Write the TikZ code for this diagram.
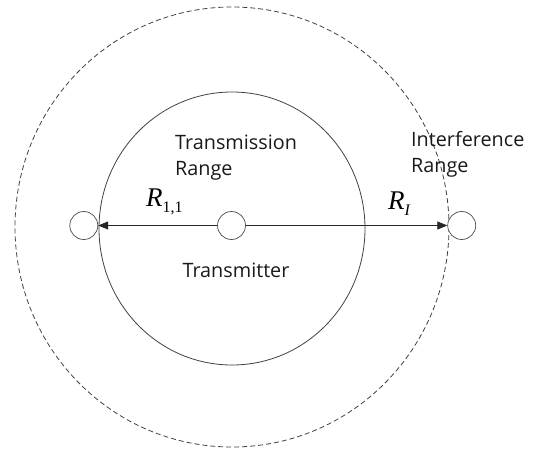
\documentclass[tikz,border=0pt]{standalone}
\usepackage{fontspec}
\setmainfont{Open Sans}
\newfontfamily\rfont{Liberation Serif}
\newcommand{\radsub}[1]{\raisebox{-6pt}{\fontsize{16}{16}\selectfont #1}}
\usetikzlibrary{positioning,arrows.meta}

\begin{document}
\begin{tikzpicture}[
    x=1pt, y=-1pt,
    font=\fontsize{19.8}{26}\selectfont, >={Triangle[length=10pt,width=8pt]},
    stn/.style={draw=black!70, circle, minimum size=28pt, inner sep=0pt, fill=white, line width=0.7pt},
    rng/.style={draw=black!75, line width=0.8pt},
    flow/.style={->, draw=black!85, line width=0.7pt},
    lbl/.style={inner sep=0pt, align=left, text=black!90},
    rad/.style={inner sep=0pt, font=\rfont\fontsize{27}{30}\selectfont\itshape},
]
\useasboundingbox (0,0) rectangle (537,452);

% ranges
\draw[rng, dash pattern=on 5pt off 3pt] (232,227) ellipse [x radius=217pt, y radius=220pt];
\draw[rng] (232,228.5) ellipse [x radius=133pt, y radius=136.5pt];

% stations
\node[stn] (tx) at (231.5,225.5) {};
\node[stn, left=119pt of tx] (rxl) {};
\node[stn, right=201.5pt of tx] (rxr) {};
\draw[flow] (tx) -- (rxl);
\draw[flow] (tx) -- (rxr);

% labels
\node[lbl, anchor=north west] (trlbl) at (175,135) {Transmission\\Range};
\node[lbl, anchor=north west] (iflbl) at (411,131) {Interference\\Range};
\node[lbl, below=23pt of tx, xshift=4.5pt] (txlbl) {Transmitter};
\node[rad, anchor=base west] (rtr) at (146,206) {R\radsub{\upshape 1,1}};
\node[rad, anchor=base west] (rif) at (388,209) {R\radsub{I}};
\end{tikzpicture}
\end{document}
